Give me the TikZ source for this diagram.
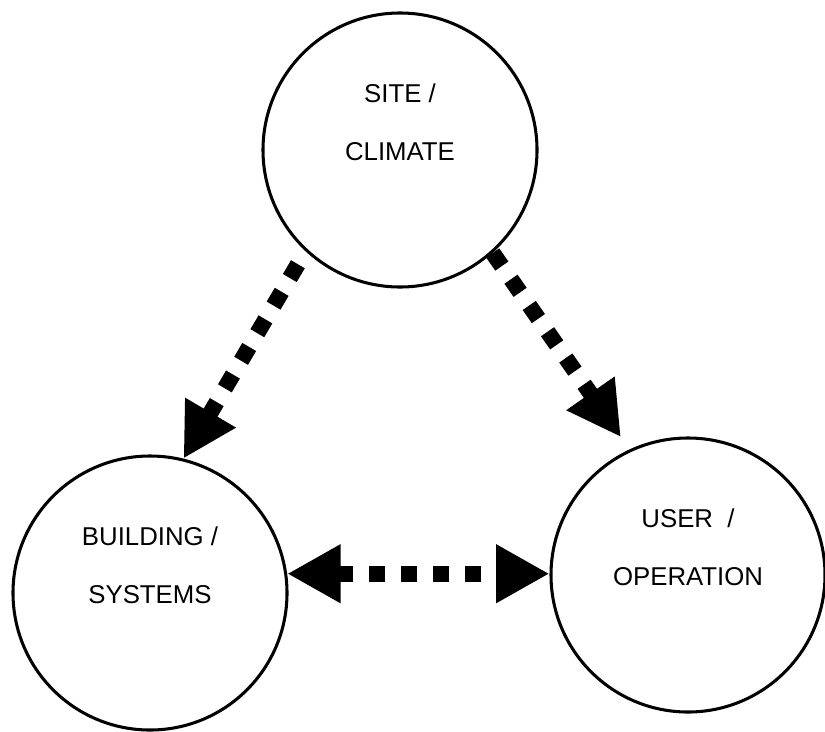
\documentclass[tikz,border=0pt]{standalone}
\usepackage{fontspec}
\setmainfont{Liberation Sans}
\usepackage{tikz}
\usetikzlibrary{arrows.meta,calc}

\begin{document}
\begin{tikzpicture}[x=0.03cm,y=-0.03cm,
    ring/.style={draw,circle,line width=2.6pt,minimum size=8.22cm,inner sep=0pt},
    caption/.style={align=center,font=\fontsize{22}{49.5}\selectfont},
    flow/.style={line width=0.48cm,dash pattern=on 0.48cm off 0.48cm},
    >={Triangle[length=1.6cm,width=1.65cm]}
    ]
    \useasboundingbox (0,0) rectangle (825,731);
    %%
    %% the three circles
    \node[ring] (site) at (400,150) {};
    \node[ring] (bs) at (150,593) {};
    \node[ring] (uo) at (688,575) {};
    % texts sit a little above the centre
    \node[caption] (sitetext) at ($(site)+(0,-28)$) {SITE /\\CLIMATE};
    \node[caption] (bstext) at ($(bs)+(0,-28)$) {BUILDING /\\SYSTEMS};
    \node[caption] (uotext) at ($(uo)+(0,-28)$) {USER\ \ /\\OPERATION};
    %%
    %% arrows
    \draw[flow,->,shorten <=0.45cm] (site.227) -- (bs.76);
    \draw[flow,->,shorten >=0.45cm] (site.-48) -- (uo.115);
    \draw[flow,<->] (bs.8) -- (bs.8 -| uo.west);
\end{tikzpicture}
\end{document}
